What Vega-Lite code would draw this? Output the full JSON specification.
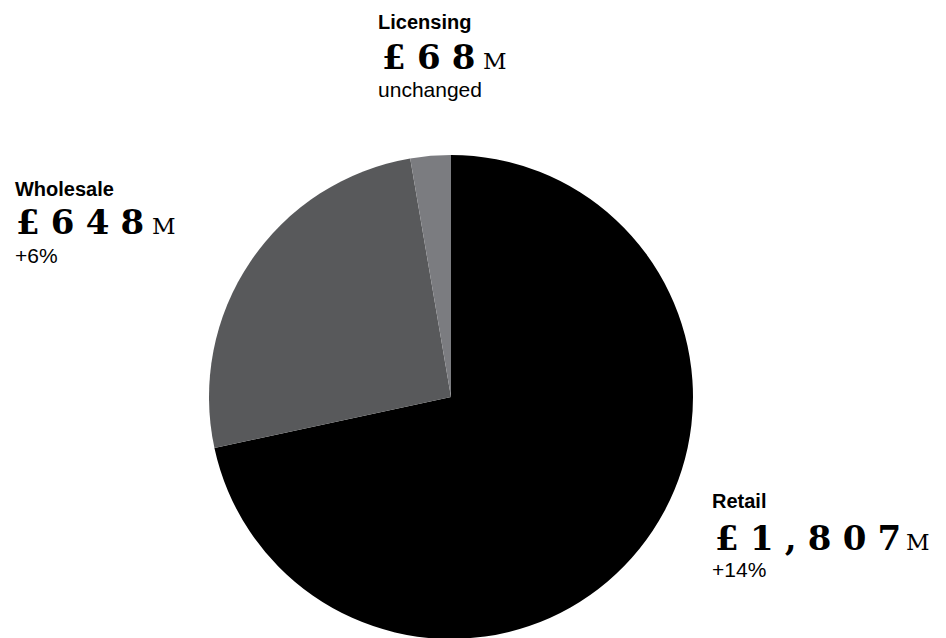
{
  "$schema": "https://vega.github.io/schema/vega-lite/v6.json",
  "width": 902,
  "height": 794,
  "padding": {"left": 0, "top": 0, "right": 44, "bottom": 0},
  "autosize": "none",
  "background": "white",
  "view": {"stroke": null},
  "data": {
    "values": [
      {"segment": "Retail", "revenue": 1807, "amount": "£\u20041\u2004,\u20048\u20040\u20047", "unit": "M", "change": "+14%"},
      {"segment": "Wholesale", "revenue": 648, "amount": "£\u20046\u20044\u20048", "unit": "M", "change": "+6%"},
      {"segment": "Licensing", "revenue": 68, "amount": "£\u20046\u20048", "unit": "M", "change": "unchanged"}
    ]
  },
  "layer": [
    {
      "mark": {"type": "arc", "outerRadius": 242, "stroke": null},
      "encoding": {
        "theta": {"field": "revenue", "type": "quantitative", "stack": true},
        "order": {"field": "revenue", "sort": "descending"},
        "color": {
          "field": "segment", "type": "nominal",
          "scale": {"domain": ["Retail", "Wholesale", "Licensing"], "range": ["#000000", "#58595b", "#7b7c80"]},
          "legend": null
        }
      }
    },
    {
      "mark": {
        "type": "text", "radius": 300, "align": "left", "baseline": "alphabetic",
        "font": "Liberation Sans", "fontWeight": "bold", "fontSize": 20, "fill": "#000000",
        "dx": {"expr": "datum.segment === 'Retail' ? 27.6 : datum.segment === 'Wholesale' ? -187.5 : -47.6"},
        "dy": {"expr": "datum.segment === 'Retail' ? -77 : datum.segment === 'Wholesale' ? -32.9 : -68.6"}
      },
      "encoding": {
        "theta": {"field": "revenue", "type": "quantitative", "stack": true},
        "order": {"field": "revenue", "sort": "descending"},
        "detail": {"field": "segment", "type": "nominal"},
        "text": {"field": "segment", "type": "nominal"}
      }
    },
    {
      "mark": {
        "type": "text", "radius": 300, "align": "left", "baseline": "alphabetic",
        "font": "DejaVu Serif", "fontWeight": "bold", "fontSize": 34, "fill": "#000000",
        "dx": {"expr": "datum.segment === 'Retail' ? 30.6 : datum.segment === 'Wholesale' ? -186.5 : -43.6"},
        "dy": {"expr": "datum.segment === 'Retail' ? -35.5 : datum.segment === 'Wholesale' ? 5.1 : -28.6"}
      },
      "encoding": {
        "theta": {"field": "revenue", "type": "quantitative", "stack": true},
        "order": {"field": "revenue", "sort": "descending"},
        "detail": {"field": "segment", "type": "nominal"},
        "text": {"field": "amount", "type": "nominal"}
      }
    },
    {
      "mark": {
        "type": "text", "radius": 300, "align": "left", "baseline": "alphabetic",
        "font": "DejaVu Serif", "fontWeight": "normal", "fontSize": 23, "fill": "#000000",
        "dx": {"expr": "datum.segment === 'Retail' ? 221.6 : datum.segment === 'Wholesale' ? -50.5 : 57.4"},
        "dy": {"expr": "datum.segment === 'Retail' ? -35.5 : datum.segment === 'Wholesale' ? 5.1 : -28.6"}
      },
      "encoding": {
        "theta": {"field": "revenue", "type": "quantitative", "stack": true},
        "order": {"field": "revenue", "sort": "descending"},
        "detail": {"field": "segment", "type": "nominal"},
        "text": {"field": "unit", "type": "nominal"}
      }
    },
    {
      "mark": {
        "type": "text", "radius": 300, "align": "left", "baseline": "alphabetic",
        "font": "Liberation Sans", "fontWeight": "normal", "fontSize": 21, "fill": "#000000",
        "dx": {"expr": "datum.segment === 'Retail' ? 27.6 : datum.segment === 'Wholesale' ? -187.5 : -47.6"},
        "dy": {"expr": "datum.segment === 'Retail' ? -8.5 : datum.segment === 'Wholesale' ? 33.6 : -1.1"}
      },
      "encoding": {
        "theta": {"field": "revenue", "type": "quantitative", "stack": true},
        "order": {"field": "revenue", "sort": "descending"},
        "detail": {"field": "segment", "type": "nominal"},
        "text": {"field": "change", "type": "nominal"}
      }
    }
  ]
}
